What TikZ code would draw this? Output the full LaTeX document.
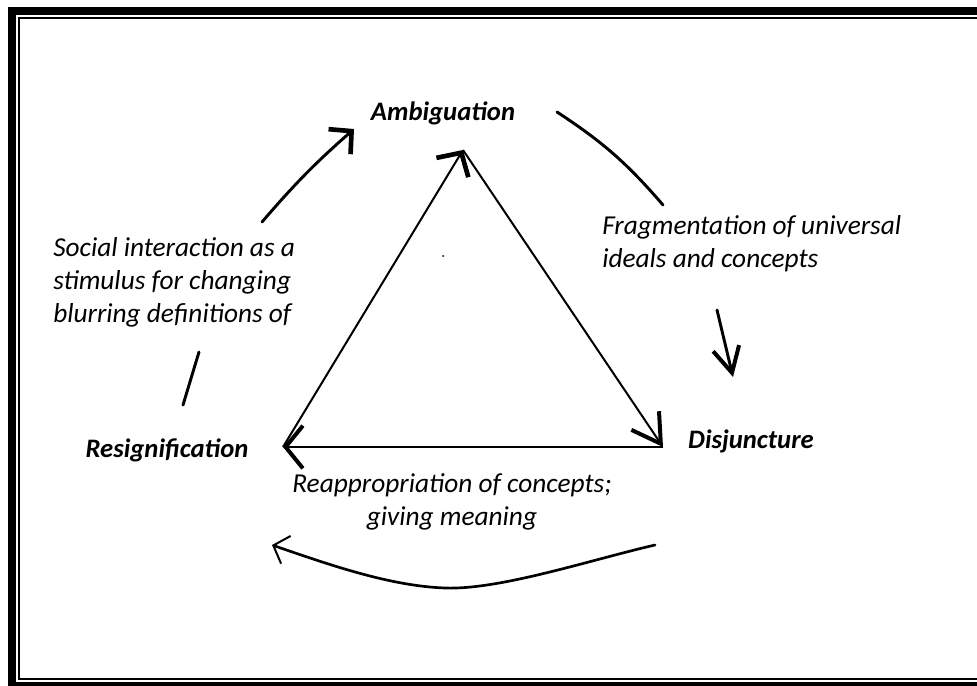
\documentclass[tikz,border=0pt]{standalone}
\usepackage{fontspec}
\setmainfont{Carlito}
\usepackage{tikz}
\usetikzlibrary{arrows.meta,positioning}

\begin{document}
\begin{tikzpicture}[
  x=0.75pt,y=-0.75pt,
  stage/.style={font=\fontsize{20}{24}\selectfont\bfseries\itshape,inner sep=0pt,anchor=base},
  note/.style={font=\fontsize{20.5}{24.75}\selectfont\itshape,inner sep=0pt,align=left,anchor=north west},
  side/.style={line width=1.5pt},
  sweep/.style={line width=2.2pt,line cap=round},
]
  \useasboundingbox (0,0) rectangle (977,685);
  \clip (0,0) rectangle (977,685);
  % frame, cut off on the right
  \draw[line width=6pt] (12,11) rectangle (1000,686);
  \draw[line width=1.5pt] (19,18) rectangle (1000,679);

  % the three stages
  \node[stage] (amb) at (443,120) {Ambiguation};
  \node[stage] (dis) at (751,448) {Disjuncture};
  \node[stage] (res) at (167,457) {Resignification};

  % notes between them
  \node[note] (frag) at (602,215) {Fragmentation of universal\\ideals and concepts};
  \node[note] (social) at (53,237) {Social interaction as a\\stimulus for changing\\blurring definitions of};
  \node[note,align=center,anchor=north] (reap) at (452,473) {Reappropriation of concepts;\\giving meaning};

  % triangle
  \coordinate (apex) at (463,150);
  \coordinate (rcorner) at (663,447);
  \coordinate (lcorner) at (283,447);
  \draw[side,-{Straight Barb[length=13pt,width=28pt,line width=3.5pt]}] (lcorner) -- (apex);
  \draw[side,-{Straight Barb[length=21pt,width=25pt,line width=3pt]}] (apex) -- (rcorner);
  \draw[side,-{Straight Barb[length=13pt,width=32pt,line width=3pt]}] (rcorner) -- (lcorner);
  \fill (443,256) circle (1);

  % outer cycle
  \coordinate (tl0) at (262,222);
  \coordinate (tl1) at (354,129);
  \coordinate (tr0) at (557,112);
  \coordinate (tr1) at (663,205);
  \coordinate (r0) at (717,310);
  \coordinate (r1) at (733,377);
  \coordinate (l0) at (199,352);
  \coordinate (l1) at (183,405);
  \coordinate (b0) at (655,545);
  \coordinate (bm) at (445,588);
  \coordinate (b1) at (272,545);
  \draw[sweep,-{Straight Barb[length=12pt,width=25pt,line width=3.5pt]}] (tl0) to[bend left=4] (tl1);
  \draw[sweep] (tr0) to[bend left=8] (tr1);
  \draw[sweep,-{Straight Barb[length=19pt,width=20pt,line width=3pt]}] (r0) -- (r1);
  \draw[sweep] (l0) -- (l1);
  \draw[sweep,line width=2pt,-{Straight Barb[length=10pt,width=22pt,line width=1.5pt]}]
    (b0) .. controls (590,560) and (500,590) .. (bm)
         .. controls (390,586) and (330,565) .. (b1);
\end{tikzpicture}
\end{document}
